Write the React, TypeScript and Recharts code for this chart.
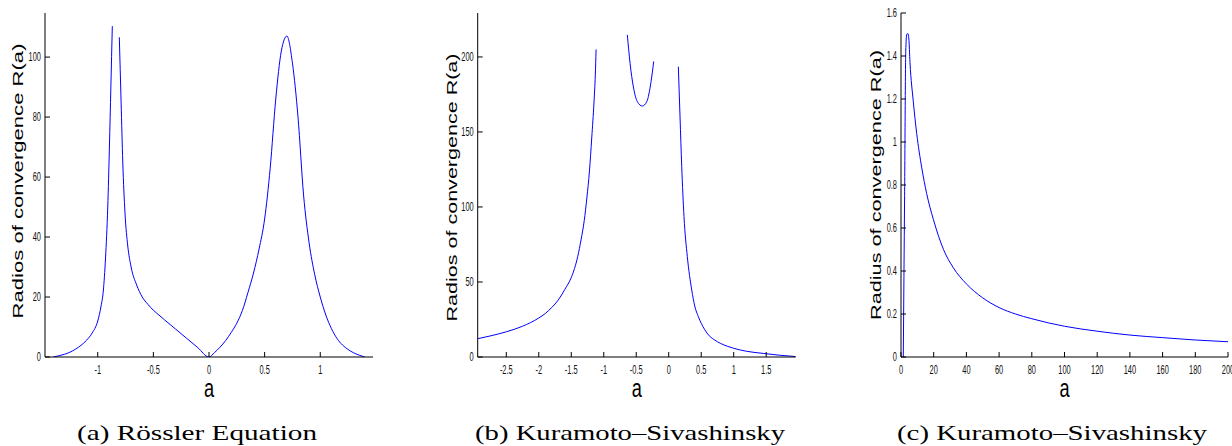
import { LineChart, Line, XAxis, YAxis } from "recharts";

// (a) Rössler equation
const rosslerA = [
  -1.4, -1.35, -1.3, -1.25, -1.2, -1.15, -1.1, -1.05, -1.0, -0.97, -0.95, -0.93, -0.91, -0.895, -0.882, -0.869,
  -0.84,
  -0.806, -0.79, -0.775, -0.755, -0.73, -0.7, -0.65, -0.6, -0.55, -0.5, -0.45, -0.4, -0.3, -0.2, -0.1, 0,
  0.05, 0.1, 0.15, 0.2, 0.25, 0.3, 0.35, 0.4, 0.45, 0.5, 0.55, 0.6, 0.65, 0.7, 0.75, 0.8, 0.85, 0.9, 0.95, 1.0,
  1.05, 1.1, 1.15, 1.2, 1.25, 1.3, 1.35, 1.4,
];
const rosslerR = [
  0, 0.4, 0.9, 1.6, 2.6, 3.9, 5.6, 8, 12, 17, 22, 33, 50, 70, 90, 110.3,
  null,
  106.6, 85, 65, 48, 37, 30, 24, 20, 17.6, 15.6, 14, 12.4, 9.3, 6.2, 3.1, 0,
  1.5, 3.3, 5.5, 8.2, 11.3, 15.5, 21.5, 28, 36, 46, 63, 86, 102, 107, 98, 80, 54, 38, 27.5, 20,
  14, 9.5, 6.2, 4, 2.5, 1.4, 0.6, 0,
];

// (b) Kuramoto–Sivashinsky, R(a) over a
const ksA = [
  -2.94, -2.75, -2.5, -2.25, -2.0, -1.9, -1.8, -1.7, -1.6, -1.5, -1.45, -1.4, -1.35, -1.3, -1.26, -1.22, -1.185,
  -1.15, -1.13, -1.118,
  -0.9,
  -0.637, -0.595, -0.544, -0.483, -0.406, -0.338, -0.272, -0.231,
  0,
  0.148, 0.174, 0.2, 0.235, 0.286, 0.354, 0.4, 0.456, 0.5, 0.55, 0.6, 0.7, 0.8, 0.9, 1.0, 1.2, 1.455, 1.7, 1.954,
];
const ksR = [
  12.2, 14, 16.8, 20.5, 26, 29, 33, 38, 45, 53, 59, 67, 78, 91, 106, 124, 146,
  170, 188, 205,
  null,
  214.7, 195.8, 180, 170.2, 167.3, 170.2, 183.6, 197,
  null,
  193.5, 160, 127, 93.5, 66.9, 44.7, 34, 26.9, 22.5, 18.5, 15.3, 11.5, 9, 7.2, 5.8, 3.8, 2.4, 1.2, 0.3,
];

// (c) Kuramoto–Sivashinsky, large a
const ksLargeA = [
  1.4, 2.2, 2.9, 3.5, 4.1, 4.8, 5.5, 7.5, 9.6, 12.7, 15.7, 19.8, 26, 32, 40, 50, 60, 70, 80, 100, 120, 140, 160, 180, 200,
];
const ksLargeR = [
  0, 0.75, 1.42, 1.5, 1.505, 1.48, 1.37, 1.19, 1.04, 0.88, 0.76, 0.64, 0.5, 0.415, 0.34, 0.275, 0.23, 0.2, 0.178, 0.143,
  0.12, 0.102, 0.09, 0.079, 0.071,
];

const ticksA_x = [-1, -0.5, 0, 0.5, 1];
const ticksA_y = [0, 20, 40, 60, 80, 100];
const ticksB_x = [-2.5, -2, -1.5, -1, -0.5, 0, 0.5, 1, 1.5];
const ticksB_y = [0, 50, 100, 150, 200];
const ticksC_x = [0, 20, 40, 60, 80, 100, 120, 140, 160, 180, 200];
const ticksC_y = [0, 0.2, 0.4, 0.6, 0.8, 1, 1.2, 1.4, 1.6];

const SANS = "'Liberation Sans', Arial, Helvetica, sans-serif";
const SERIF = "'Liberation Serif', 'Times New Roman', serif";
const BLUE = "#0000ff";

const XTick = (props: any) => {
  const { x, y, payload } = props;
  return (
    <g transform={`translate(${x},${y + 13})`}>
      <text transform="scale(0.62,1)" textAnchor="middle" fontSize={12} fontFamily={SANS} fill="#111">
        {String(payload.value)}
      </text>
    </g>
  );
};

const YTick = (props: any) => {
  const { x, y, payload } = props;
  return (
    <g transform={`translate(${x},${y + 4})`}>
      <text transform="scale(0.62,1)" textAnchor="end" fontSize={12} fontFamily={SANS} fill="#111">
        {String(payload.value)}
      </text>
    </g>
  );
};

interface PanelProps {
  left: number;
  width: number;
  plotLeft: number;
  plotRight: number;
  xs: number[];
  ys: (number | null)[];
  xDomain: [number, number];
  yDomain: [number, number];
  xTicks: number[];
  yTicks: number[];
  yLabel: string;
  yLabelX: number;
  yLabelY: number;
  yLabelLen: number;
}

function Panel(p: PanelProps) {
  const data = p.xs.map((a, i) => ({ a, r: p.ys[i] }));
  const xMid = (p.plotLeft + p.plotRight) / 2;
  return (
    <div style={{ position: "absolute", left: p.left, top: 0 }}>
      <LineChart
        width={p.width}
        height={446}
        data={data}
        margin={{ top: 13, right: p.width - p.plotRight, left: 0, bottom: 0 }}
      >
        <XAxis
          type="number"
          dataKey="a"
          domain={p.xDomain}
          ticks={p.xTicks}
          interval={0}
          allowDataOverflow
          height={89}
          stroke="#000"
          tickSize={-5}
          tickMargin={9}
          tick={<XTick />}
          label={() => (
            <g transform={`translate(${xMid},397)`}>
              <text transform="scale(0.7,1)" textAnchor="middle" fontSize={26} fontFamily={SANS} fill="#000">
                a
              </text>
            </g>
          )}
        />
        <YAxis
          type="number"
          domain={p.yDomain}
          ticks={p.yTicks}
          interval={0}
          allowDataOverflow
          width={p.plotLeft}
          stroke="#000"
          tickSize={-5}
          tickMargin={9}
          tick={<YTick />}
          label={() => (
            <text
              x={p.yLabelX}
              y={p.yLabelY}
              transform={`rotate(-90 ${p.yLabelX} ${p.yLabelY})`}
              textAnchor="middle"
              dominantBaseline="central"
              fontSize={14}
              fontFamily={SANS}
              fill="#000"
              textLength={p.yLabelLen}
              lengthAdjust="spacingAndGlyphs"
            >
              {p.yLabel}
            </text>
          )}
        />
        <Line
          type="monotone"
          dataKey="r"
          stroke={BLUE}
          strokeWidth={1}
          dot={false}
          connectNulls={false}
          isAnimationActive={false}
        />
      </LineChart>
    </div>
  );
}

const captions = [
  { text: "(a) Rössler Equation", x: 77, len: 240 },
  { text: "(b) Kuramoto–Sivashinsky", x: 475, len: 310 },
  { text: "(c) Kuramoto–Sivashinsky", x: 897, len: 310 },
];

export default function App() {
  return (
    <div
      style={{
        position: "absolute",
        left: 0,
        top: 0,
        width: 1232,
        height: 446,
        overflow: "hidden",
        background: "#fff",
      }}
    >
      <Panel
        left={0}
        width={400}
        plotLeft={45}
        plotRight={373}
        xs={rosslerA}
        ys={rosslerR}
        xDomain={[-1.474, 1.474]}
        yDomain={[0, 114.7]}
        xTicks={ticksA_x}
        yTicks={ticksA_y}
        yLabel="Radios of convergence R(a)"
        yLabelX={18}
        yLabelY={181}
        yLabelLen={275}
      />
      <Panel
        left={410}
        width={400}
        plotLeft={67.7}
        plotRight={385.7}
        xs={ksA}
        ys={ksR}
        xDomain={[-2.94, 1.954]}
        yDomain={[0, 229.3]}
        xTicks={ticksB_x}
        yTicks={ticksB_y}
        yLabel="Radios of convergence R(a)"
        yLabelX={41.5}
        yLabelY={187.5}
        yLabelLen={268}
      />
      <Panel
        left={820}
        width={420}
        plotLeft={81}
        plotRight={408}
        xs={ksLargeA}
        ys={ksLargeR}
        xDomain={[0, 200]}
        yDomain={[0, 1.6]}
        xTicks={ticksC_x}
        yTicks={ticksC_y}
        yLabel="Radius of convergence R(a)"
        yLabelX={56}
        yLabelY={185}
        yLabelLen={270}
      />
      <svg width={1232} height={446} style={{ position: "absolute", left: 0, top: 0, pointerEvents: "none" }}>
        {captions.map((c) => (
          <text
            key={c.text}
            x={c.x}
            y={440}
            fontSize={22}
            fontFamily={SERIF}
            fill="#000"
            textLength={c.len}
            lengthAdjust="spacingAndGlyphs"
          >
            {c.text}
          </text>
        ))}
      </svg>
    </div>
  );
}
